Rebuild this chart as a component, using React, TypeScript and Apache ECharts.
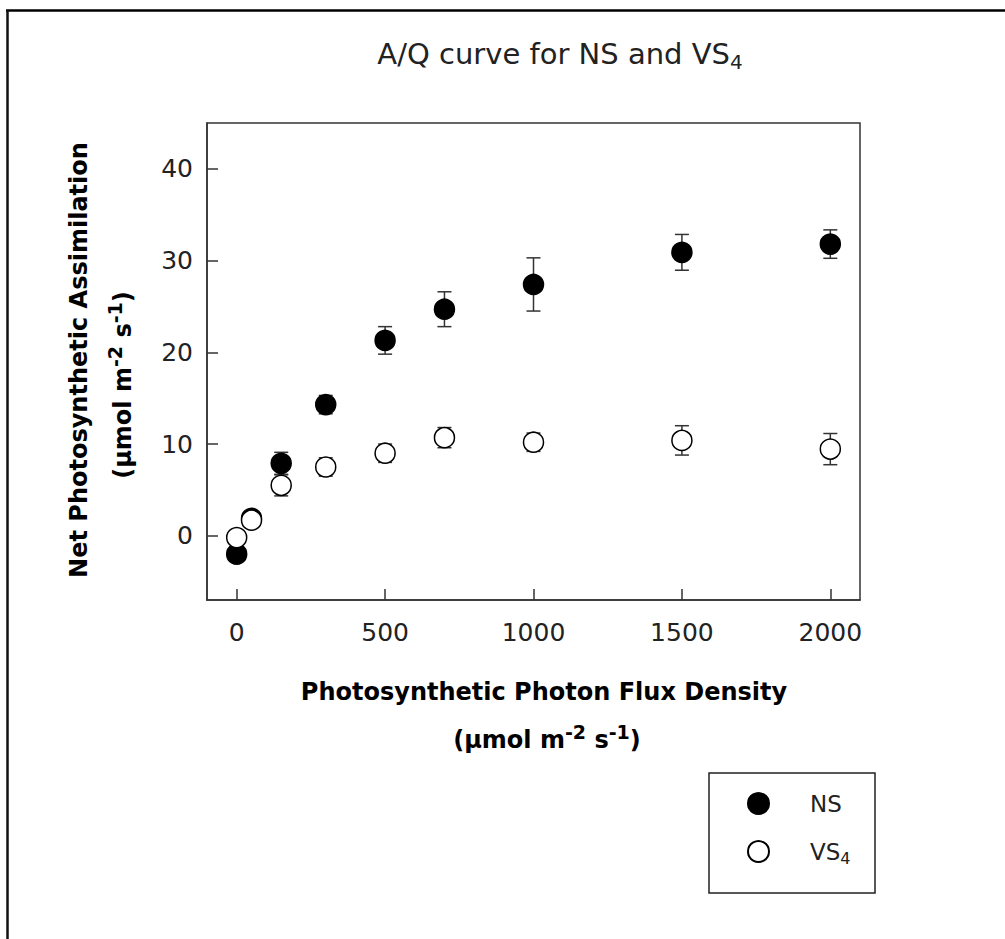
import React, { useEffect, useRef } from "react";
import * as echarts from "echarts";

const ppfd = [0, 50, 150, 300, 500, 700, 1000, 1500, 2000];
const nsMean = [-2.0, 1.9, 7.9, 14.3, 21.3, 24.7, 27.4, 30.9, 31.8];
const nsErr = [0.5, 0.5, 1.2, 1.0, 1.5, 1.9, 2.9, 1.95, 1.55];
const vsMean = [-0.2, 1.7, 5.5, 7.5, 9.0, 10.7, 10.2, 10.4, 9.45];
const vsErr = [0.5, 0.5, 1.15, 1.0, 1.0, 1.1, 1.0, 1.6, 1.7];
const xTicks = [0, 500, 1000, 1500, 2000];
const yTicks = [0, 10, 20, 30, 40];

const REG = "DejaVu Sans";
const INK = "#222";

export default function App() {
  const ref = useRef<HTMLDivElement>(null);
  useEffect(() => {
    document.body.style.margin = "0";
    const chart = echarts.init(ref.current!, null, { renderer: "svg" });
    const errRender = (params: any, api: any) => {
      const x = api.value(0);
      const y = api.value(1);
      const e = api.value(2);
      const t = api.coord([x, y + e]);
      const b = api.coord([x, y - e]);
      const hw = 7;
      const st = { stroke: "#333", lineWidth: 1.5 };
      return {
        type: "group",
        children: [
          { type: "line", shape: { x1: t[0], y1: t[1], x2: b[0], y2: b[1] }, style: st },
          { type: "line", shape: { x1: t[0] - hw, y1: t[1], x2: t[0] + hw, y2: t[1] }, style: st },
          { type: "line", shape: { x1: b[0] - hw, y1: b[1], x2: b[0] + hw, y2: b[1] }, style: st },
        ],
      };
    };
    const supRich = {
      sup: { fontFamily: REG, fontWeight: "bold", fontSize: 19, fill: "#000", padding: [0, 0, 16, 0] },
    };
    chart.setOption({
      animation: false,
      backgroundColor: "#fff",
      grid: {
        left: 207,
        top: 123,
        right: 145,
        bottom: 339,
        show: true,
        borderColor: "#333",
        borderWidth: 1.5,
      },
      xAxis: {
        type: "value",
        min: -100,
        max: 2100,
        axisLine: { show: true, onZero: false, lineStyle: { color: "#333", width: 1.5 } },
        axisTick: { show: true, inside: true, length: 11, customValues: xTicks, lineStyle: { color: "#333", width: 1.5 } },
        axisLabel: {
          customValues: xTicks,
          formatter: (v: number) => String(v),
          fontFamily: REG,
          fontSize: 25,
          color: INK,
          margin: 20,
        },
        splitLine: { show: false },
      },
      yAxis: {
        type: "value",
        min: -7,
        max: 45,
        axisLine: { show: true, onZero: false, lineStyle: { color: "#333", width: 1.5 } },
        axisTick: { show: true, inside: true, length: 11, customValues: yTicks, lineStyle: { color: "#333", width: 1.5 } },
        axisLabel: {
          customValues: yTicks,
          formatter: (v: number) => String(v),
          fontFamily: REG,
          fontSize: 25,
          color: INK,
          margin: 14,
        },
        splitLine: { show: false },
      },
      legend: {
        orient: "vertical",
        left: 747,
        top: 792,
        padding: 0,
        itemGap: 25,
        itemWidth: 21,
        itemHeight: 21,
        icon: "circle",
        data: ["NS", "VS4"],
        formatter: (name: string) => (name === "VS4" ? "{g|}VS{sub|4}" : "{g|}NS"),
        textStyle: {
          fontFamily: REG,
          fontSize: 23,
          color: INK,
          rich: {
            g: { width: 36 },
            sub: { fontFamily: REG, fontSize: 16, color: INK, padding: [14, 0, 0, 0] },
          },
        },
      },
      series: [
        {
          type: "custom",
          name: "nsErr",
          renderItem: errRender,
          data: ppfd.map((x, i) => [x, nsMean[i], nsErr[i]]),
          encode: { x: 0, y: 1 },
          z: 1,
        },
        {
          type: "custom",
          name: "vsErr",
          renderItem: errRender,
          data: ppfd.map((x, i) => [x, vsMean[i], vsErr[i]]),
          encode: { x: 0, y: 1 },
          z: 1,
        },
        {
          type: "scatter",
          name: "NS",
          symbol: "circle",
          symbolSize: 20,
          itemStyle: { color: "#000", borderColor: "#000", borderWidth: 1.5, opacity: 1 },
          data: ppfd.map((x, i) => [x, nsMean[i]]),
          z: 3,
        },
        {
          type: "scatter",
          name: "VS4",
          symbol: "circle",
          symbolSize: 20,
          itemStyle: { color: "#fff", borderColor: "#000", borderWidth: 1.5, opacity: 1 },
          data: ppfd.map((x, i) => [x, vsMean[i]]),
          z: 4,
        },
      ],
      graphic: [
        { type: "line", shape: { x1: 6, y1: 10.5, x2: 1005, y2: 10.5 }, style: { stroke: "#000", lineWidth: 2.5 } },
        { type: "line", shape: { x1: 7.5, y1: 10, x2: 7.5, y2: 939 }, style: { stroke: "#111", lineWidth: 2.5 } },
        {
          type: "text",
          x: 560,
          y: 54,
          style: {
            text: "A/Q curve for NS and VS{sub|4}",
            fontFamily: REG,
            fontSize: 29,
            fill: INK,
            textAlign: "center",
            textVerticalAlign: "middle",
            rich: { sub: { fontFamily: REG, fontSize: 20, fill: INK, padding: [16, 0, 0, 0] } },
          },
        },
        {
          type: "text",
          x: 79,
          y: 360,
          rotation: Math.PI / 2,
          style: {
            text: "Net Photosynthetic Assimilation",
            fontFamily: REG,
            fontWeight: "bold",
            fontSize: 24,
            fill: "#000",
            textAlign: "center",
            textVerticalAlign: "middle",
          },
        },
        {
          type: "text",
          x: 123,
          y: 385,
          rotation: Math.PI / 2,
          style: {
            text: "(\u03bcmol m{sup|-2} s{sup|-1})",
            fontFamily: REG,
            fontWeight: "bold",
            fontSize: 24,
            fill: "#000",
            textAlign: "center",
            textVerticalAlign: "middle",
            rich: supRich,
          },
        },
        {
          type: "text",
          x: 544,
          y: 692,
          style: {
            text: "Photosynthetic Photon Flux Density",
            fontFamily: REG,
            fontWeight: "bold",
            fontSize: 24,
            fill: "#000",
            textAlign: "center",
            textVerticalAlign: "middle",
          },
        },
        {
          type: "text",
          x: 547,
          y: 740,
          style: {
            text: "(\u03bcmol m{sup|-2} s{sup|-1})",
            fontFamily: REG,
            fontWeight: "bold",
            fontSize: 24,
            fill: "#000",
            textAlign: "center",
            textVerticalAlign: "middle",
            rich: supRich,
          },
        },
        {
          type: "rect",
          shape: { x: 709, y: 773, width: 166, height: 120 },
          style: { fill: "none", stroke: INK, lineWidth: 1.5 },
        },
      ],
    });
    return () => chart.dispose();
  }, []);
  return <div ref={ref} style={{ width: 1005, height: 939 }} />;
}
